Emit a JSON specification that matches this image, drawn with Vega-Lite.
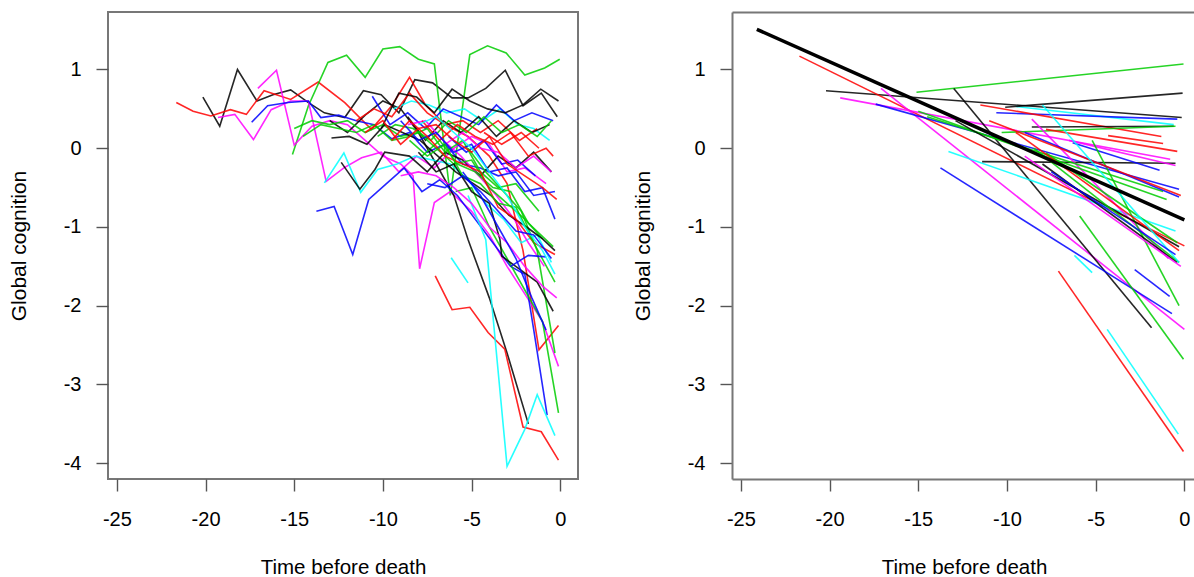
{
"$schema": "https://vega.github.io/schema/vega-lite/v6.json",
"padding": {"left": 7, "top": 11, "right": 0, "bottom": 0},
"spacing": 154,
"bounds": "flush",
"config": {
  "font": "Liberation Sans",
  "view": {"stroke": null},
  "axis": {"grid": false, "labelFont": "Liberation Sans", "titleFont": "Liberation Sans", "labelFontSize": 20, "titleFontSize": 20.5, "titleFontWeight": "normal", "labelColor": "#000", "titleColor": "#000", "tickColor": "#555", "tickSize": 12, "tickWidth": 1.4, "domainColor": "#777", "domainWidth": 2},
  "axisY": {"titleFontSize": 21}
},
"datasets": {
"traj": [
{"s":1,"c":"k","t":-20.15,"g":0.65},{"s":1,"c":"k","t":-19.2,"g":0.28},{"s":1,"c":"k","t":-18.2,"g":1.0},{"s":1,"c":"k","t":-17.1,"g":0.6},{"s":1,"c":"k","t":-16.2,"g":0.68},{"s":1,"c":"k","t":-15.2,"g":0.74},{"s":1,"c":"k","t":-14.2,"g":0.58},{"s":1,"c":"k","t":-13.3,"g":0.45},{"s":1,"c":"k","t":-12.15,"g":0.39},{"s":1,"c":"k","t":-11.1,"g":0.73},{"s":1,"c":"k","t":-10.1,"g":0.68},{"s":1,"c":"k","t":-9.1,"g":0.45},{"s":1,"c":"k","t":-8.2,"g":0.87},{"s":1,"c":"k","t":-7.2,"g":0.83},{"s":1,"c":"k","t":-6.1,"g":0.64},{"s":1,"c":"k","t":-5.2,"g":0.64},{"s":1,"c":"k","t":-4.2,"g":0.76},{"s":1,"c":"k","t":-3.1,"g":0.99},{"s":1,"c":"k","t":-2.1,"g":0.54},{"s":1,"c":"k","t":-1.07,"g":0.70},{"s":1,"c":"k","t":-0.17,"g":0.40},
{"s":2,"c":"r","t":-21.65,"g":0.58},{"s":2,"c":"r","t":-20.7,"g":0.47},{"s":2,"c":"r","t":-19.7,"g":0.41},{"s":2,"c":"r","t":-18.6,"g":0.49},{"s":2,"c":"r","t":-17.7,"g":0.43},{"s":2,"c":"r","t":-16.7,"g":0.73},{"s":2,"c":"r","t":-15.2,"g":0.62},{"s":2,"c":"r","t":-13.65,"g":0.84},{"s":2,"c":"r","t":-12.15,"g":0.58},{"s":2,"c":"r","t":-10.65,"g":0.24},{"s":2,"c":"r","t":-9.5,"g":0.54},{"s":2,"c":"r","t":-8.5,"g":0.90},{"s":2,"c":"r","t":-7.6,"g":0.55},{"s":2,"c":"r","t":-6.5,"g":0.3},{"s":2,"c":"r","t":-5.2,"g":0.15},{"s":2,"c":"r","t":-4.0,"g":-0.1},{"s":2,"c":"r","t":-3.0,"g":-0.45},{"s":2,"c":"r","t":-2.1,"g":-1.3},{"s":2,"c":"r","t":-1.2,"g":-2.56},{"s":2,"c":"r","t":-0.1,"g":-2.25},
{"s":3,"c":"g","t":-15.1,"g":-0.08},{"s":3,"c":"g","t":-14.2,"g":0.54},{"s":3,"c":"g","t":-13.1,"g":1.09},{"s":3,"c":"g","t":-12.05,"g":1.18},{"s":3,"c":"g","t":-11.0,"g":0.90},{"s":3,"c":"g","t":-10.0,"g":1.26},{"s":3,"c":"g","t":-9.05,"g":1.29},{"s":3,"c":"g","t":-8.0,"g":1.13},{"s":3,"c":"g","t":-7.1,"g":1.07},{"s":3,"c":"g","t":-6.2,"g":-0.6},{"s":3,"c":"g","t":-5.1,"g":1.19},{"s":3,"c":"g","t":-4.1,"g":1.30},{"s":3,"c":"g","t":-3.05,"g":1.21},{"s":3,"c":"g","t":-2.0,"g":0.93},{"s":3,"c":"g","t":-0.88,"g":1.02},{"s":3,"c":"g","t":-0.03,"g":1.13},
{"s":4,"c":"m","t":-19.3,"g":0.39},{"s":4,"c":"m","t":-18.35,"g":0.43},{"s":4,"c":"m","t":-17.3,"g":0.11},{"s":4,"c":"m","t":-16.3,"g":0.49},{"s":4,"c":"m","t":-15.2,"g":0.6},{"s":4,"c":"m","t":-14.2,"g":0.6},{"s":4,"c":"m","t":-13.2,"g":-0.42},{"s":4,"c":"m","t":-12.2,"g":-0.25},{"s":4,"c":"m","t":-11.2,"g":-0.12},{"s":4,"c":"m","t":-10.1,"g":-0.05},{"s":4,"c":"m","t":-9.1,"g":-0.3},{"s":4,"c":"m","t":-8.1,"g":-0.1},{"s":4,"c":"m","t":-7.1,"g":-0.25},{"s":4,"c":"m","t":-6.0,"g":0.0},{"s":4,"c":"m","t":-5.0,"g":0.15},{"s":4,"c":"m","t":-4.0,"g":0.05},{"s":4,"c":"m","t":-3.0,"g":-0.3},{"s":4,"c":"m","t":-2.0,"g":-0.25},{"s":4,"c":"m","t":-0.8,"g":-0.45},
{"s":5,"c":"m","t":-17.05,"g":0.76},{"s":5,"c":"m","t":-16.0,"g":0.99},{"s":5,"c":"m","t":-15.0,"g":0.04},{"s":5,"c":"m","t":-14.0,"g":0.28},{"s":5,"c":"m","t":-13.0,"g":0.35},{"s":5,"c":"m","t":-12.0,"g":0.3},{"s":5,"c":"m","t":-11.0,"g":0.1},{"s":5,"c":"m","t":-10.0,"g":-0.1},{"s":5,"c":"m","t":-9.0,"g":-0.2},{"s":5,"c":"m","t":-8.3,"g":-0.35},{"s":5,"c":"m","t":-7.93,"g":-1.53},{"s":5,"c":"m","t":-7.1,"g":-0.69},{"s":5,"c":"m","t":-6.2,"g":-0.55},{"s":5,"c":"m","t":-5.0,"g":-0.8},{"s":5,"c":"m","t":-4.0,"g":-1.1},{"s":5,"c":"m","t":-3.0,"g":-1.5},{"s":5,"c":"m","t":-2.0,"g":-1.85},{"s":5,"c":"m","t":-1.0,"g":-2.2},{"s":5,"c":"m","t":-0.1,"g":-2.77},
{"s":6,"c":"b","t":-17.4,"g":0.33},{"s":6,"c":"b","t":-16.5,"g":0.54},{"s":6,"c":"b","t":-15.35,"g":0.58},{"s":6,"c":"b","t":-14.2,"g":0.6},{"s":6,"c":"b","t":-13.5,"g":0.39},{"s":6,"c":"b","t":-12.5,"g":0.42},{"s":6,"c":"b","t":-11.5,"g":0.35},{"s":6,"c":"b","t":-10.5,"g":0.3},{"s":6,"c":"b","t":-9.5,"g":0.12},{"s":6,"c":"b","t":-8.5,"g":0.2},{"s":6,"c":"b","t":-7.5,"g":-0.05},{"s":6,"c":"b","t":-6.5,"g":0.05},{"s":6,"c":"b","t":-5.5,"g":-0.2},{"s":6,"c":"b","t":-4.5,"g":-0.25},{"s":6,"c":"b","t":-3.5,"g":-0.35},{"s":6,"c":"b","t":-2.5,"g":-0.3},{"s":6,"c":"b","t":-1.5,"g":-0.6},{"s":6,"c":"b","t":-0.3,"g":-0.55},
{"s":7,"c":"k","t":-13.0,"g":0.35},{"s":7,"c":"k","t":-12.0,"g":0.2},{"s":7,"c":"k","t":-11.0,"g":0.42},{"s":7,"c":"k","t":-10.0,"g":0.6},{"s":7,"c":"k","t":-9.0,"g":0.5},{"s":7,"c":"k","t":-8.0,"g":0.2},{"s":7,"c":"k","t":-7.0,"g":-0.2},{"s":7,"c":"k","t":-6.0,"g":-0.6},{"s":7,"c":"k","t":-5.2,"g":-1.16},{"s":7,"c":"k","t":-4.0,"g":-1.9},{"s":7,"c":"k","t":-3.0,"g":-2.6},{"s":7,"c":"k","t":-1.8,"g":-3.5},
{"s":8,"c":"c","t":-13.3,"g":-0.44},{"s":8,"c":"c","t":-12.2,"g":-0.06},{"s":8,"c":"c","t":-11.25,"g":-0.56},{"s":8,"c":"c","t":-10.3,"g":-0.27},{"s":8,"c":"c","t":-9.2,"g":-0.2},{"s":8,"c":"c","t":-8.2,"g":-0.1},{"s":8,"c":"c","t":-7.2,"g":-0.15},{"s":8,"c":"c","t":-6.2,"g":-0.2},{"s":8,"c":"c","t":-5.2,"g":-0.4},{"s":8,"c":"c","t":-4.2,"g":-0.7},{"s":8,"c":"c","t":-3.2,"g":-0.9},{"s":8,"c":"c","t":-2.2,"g":-1.2},{"s":8,"c":"c","t":-1.3,"g":-1.1},{"s":8,"c":"c","t":-0.5,"g":-1.45},
{"s":9,"c":"b","t":-13.75,"g":-0.8},{"s":9,"c":"b","t":-12.75,"g":-0.74},{"s":9,"c":"b","t":-11.7,"g":-1.35},{"s":9,"c":"b","t":-10.8,"g":-0.65},{"s":9,"c":"b","t":-9.8,"g":-0.45},{"s":9,"c":"b","t":-8.8,"g":-0.25},{"s":9,"c":"b","t":-7.8,"g":-0.55},{"s":9,"c":"b","t":-6.8,"g":-0.4},{"s":9,"c":"b","t":-5.8,"g":-0.6},{"s":9,"c":"b","t":-4.8,"g":-0.9},{"s":9,"c":"b","t":-3.8,"g":-1.2},{"s":9,"c":"b","t":-2.8,"g":-1.5},{"s":9,"c":"b","t":-2.0,"g":-1.6},{"s":9,"c":"b","t":-1.5,"g":-2.3},{"s":9,"c":"b","t":-0.74,"g":-3.39},
{"s":10,"c":"c","t":-9.4,"g":0.5},{"s":10,"c":"c","t":-8.4,"g":0.6},{"s":10,"c":"c","t":-7.4,"g":0.55},{"s":10,"c":"c","t":-6.4,"g":0.45},{"s":10,"c":"c","t":-5.4,"g":0.5},{"s":10,"c":"c","t":-4.4,"g":0.35},{"s":10,"c":"c","t":-3.4,"g":0.5},{"s":10,"c":"c","t":-2.4,"g":0.3},{"s":10,"c":"c","t":-1.5,"g":0.25},{"s":10,"c":"c","t":-0.6,"g":0.1},
{"s":11,"c":"b","t":-10.6,"g":0.66},{"s":11,"c":"b","t":-9.6,"g":0.3},{"s":11,"c":"b","t":-8.6,"g":0.45},{"s":11,"c":"b","t":-7.6,"g":0.25},{"s":11,"c":"b","t":-6.6,"g":0.5},{"s":11,"c":"b","t":-5.6,"g":0.4},{"s":11,"c":"b","t":-4.6,"g":0.3},{"s":11,"c":"b","t":-3.6,"g":0.55},{"s":11,"c":"b","t":-2.6,"g":0.35},{"s":11,"c":"b","t":-1.6,"g":0.45},{"s":11,"c":"b","t":-0.4,"g":0.35},
{"s":12,"c":"r","t":-11.5,"g":0.35},{"s":12,"c":"r","t":-10.5,"g":0.5},{"s":12,"c":"r","t":-9.5,"g":0.4},{"s":12,"c":"r","t":-8.5,"g":0.7},{"s":12,"c":"r","t":-7.5,"g":0.45},{"s":12,"c":"r","t":-6.5,"g":0.3},{"s":12,"c":"r","t":-5.5,"g":0.35},{"s":12,"c":"r","t":-4.5,"g":0.2},{"s":12,"c":"r","t":-3.5,"g":0.35},{"s":12,"c":"r","t":-2.3,"g":0.1},{"s":12,"c":"r","t":-1.3,"g":0.25},
{"s":13,"c":"k","t":-10.1,"g":0.25},{"s":13,"c":"k","t":-9.1,"g":0.7},{"s":13,"c":"k","t":-8.1,"g":0.65},{"s":13,"c":"k","t":-7.1,"g":0.45},{"s":13,"c":"k","t":-6.1,"g":0.75},{"s":13,"c":"k","t":-5.1,"g":0.6},{"s":13,"c":"k","t":-4.1,"g":0.5},{"s":13,"c":"k","t":-3.1,"g":0.45},{"s":13,"c":"k","t":-2.1,"g":0.55},{"s":13,"c":"k","t":-1.1,"g":0.75},{"s":13,"c":"k","t":-0.1,"g":0.6},
{"s":14,"c":"k","t":-8.6,"g":0.4},{"s":14,"c":"k","t":-7.6,"g":0.1},{"s":14,"c":"k","t":-6.6,"g":0.35},{"s":14,"c":"k","t":-5.6,"g":0.2},{"s":14,"c":"k","t":-4.6,"g":0.4},{"s":14,"c":"k","t":-3.6,"g":0.15},{"s":14,"c":"k","t":-2.6,"g":0.35},{"s":14,"c":"k","t":-1.6,"g":0.2},{"s":14,"c":"k","t":-0.6,"g":0.3},
{"s":15,"c":"k","t":-12.35,"g":-0.18},{"s":15,"c":"k","t":-11.3,"g":-0.52},{"s":15,"c":"k","t":-10.45,"g":-0.27},{"s":15,"c":"k","t":-9.9,"g":-0.05},{"s":15,"c":"k","t":-8.5,"g":-0.1},{"s":15,"c":"k","t":-7.5,"g":-0.3},{"s":15,"c":"k","t":-6.5,"g":-0.05},{"s":15,"c":"k","t":-5.5,"g":-0.15},{"s":15,"c":"k","t":-4.5,"g":-0.35},{"s":15,"c":"k","t":-3.5,"g":-0.1},{"s":15,"c":"k","t":-2.5,"g":-0.25},{"s":15,"c":"k","t":-1.5,"g":-0.05},{"s":15,"c":"k","t":-0.5,"g":-0.3},
{"s":16,"c":"g","t":-10.3,"g":0.15},{"s":16,"c":"g","t":-9.3,"g":0.3},{"s":16,"c":"g","t":-8.3,"g":0.25},{"s":16,"c":"g","t":-7.3,"g":0.1},{"s":16,"c":"g","t":-6.3,"g":0.35},{"s":16,"c":"g","t":-5.3,"g":0.2},{"s":16,"c":"g","t":-4.3,"g":0.4},{"s":16,"c":"g","t":-3.3,"g":0.2},{"s":16,"c":"g","t":-2.3,"g":0.3},{"s":16,"c":"g","t":-1.3,"g":0.15},{"s":16,"c":"g","t":-0.5,"g":0.35},
{"s":17,"c":"r","t":-4.3,"g":0.2},{"s":17,"c":"r","t":-3.3,"g":0.05},{"s":17,"c":"r","t":-2.2,"g":0.2},{"s":17,"c":"r","t":-1.2,"g":0.0},
{"s":18,"c":"b","t":-6.3,"g":0.15},{"s":18,"c":"b","t":-5.3,"g":-0.05},{"s":18,"c":"b","t":-4.3,"g":0.1},{"s":18,"c":"b","t":-3.3,"g":-0.2},{"s":18,"c":"b","t":-2.4,"g":-0.15},{"s":18,"c":"b","t":-1.4,"g":-0.35},
{"s":19,"c":"m","t":-8.6,"g":0.3},{"s":19,"c":"m","t":-7.6,"g":0.35},{"s":19,"c":"m","t":-6.6,"g":0.1},{"s":19,"c":"m","t":-5.6,"g":-0.1},{"s":19,"c":"m","t":-4.6,"g":-0.35},{"s":19,"c":"m","t":-3.6,"g":-0.6},{"s":19,"c":"m","t":-2.6,"g":-0.9},{"s":19,"c":"m","t":-1.8,"g":-1.2},{"s":19,"c":"m","t":-0.9,"g":-1.5},
{"s":20,"c":"r","t":-7.8,"g":0.35},{"s":20,"c":"r","t":-6.8,"g":0.1},{"s":20,"c":"r","t":-5.8,"g":0.3},{"s":20,"c":"r","t":-4.8,"g":0.15},{"s":20,"c":"r","t":-3.8,"g":0.05},{"s":20,"c":"r","t":-2.8,"g":0.2},{"s":20,"c":"r","t":-1.8,"g":-0.1},{"s":20,"c":"r","t":-0.8,"g":0.0},{"s":20,"c":"r","t":-0.4,"g":-0.1},
{"s":21,"c":"m","t":-6.5,"g":0.05},{"s":21,"c":"m","t":-5.5,"g":0.2},{"s":21,"c":"m","t":-4.5,"g":0.0},{"s":21,"c":"m","t":-3.5,"g":-0.05},{"s":21,"c":"m","t":-2.5,"g":-0.25},{"s":21,"c":"m","t":-1.5,"g":-0.1},{"s":21,"c":"m","t":-0.5,"g":-0.3},
{"s":22,"c":"g","t":-15.0,"g":0.25},{"s":22,"c":"g","t":-14.0,"g":0.35},{"s":22,"c":"g","t":-13.0,"g":0.3},{"s":22,"c":"g","t":-12.0,"g":0.35},{"s":22,"c":"g","t":-11.0,"g":0.2},{"s":22,"c":"g","t":-10.0,"g":0.3},{"s":22,"c":"g","t":-9.0,"g":0.15},{"s":22,"c":"g","t":-8.0,"g":0.2},{"s":22,"c":"g","t":-7.0,"g":0.0},{"s":22,"c":"g","t":-6.0,"g":-0.2},{"s":22,"c":"g","t":-5.0,"g":-0.15},{"s":22,"c":"g","t":-4.0,"g":-0.5},{"s":22,"c":"g","t":-3.0,"g":-0.7},{"s":22,"c":"g","t":-2.0,"g":-0.9},{"s":22,"c":"g","t":-1.0,"g":-1.15},
{"s":23,"c":"g","t":-14.5,"g":0.15},{"s":23,"c":"g","t":-13.5,"g":0.3},{"s":23,"c":"g","t":-12.5,"g":0.25},{"s":23,"c":"g","t":-11.5,"g":0.2},{"s":23,"c":"g","t":-10.5,"g":0.3},{"s":23,"c":"g","t":-9.5,"g":0.1},{"s":23,"c":"g","t":-8.5,"g":0.15},{"s":23,"c":"g","t":-7.5,"g":0.25},{"s":23,"c":"g","t":-6.5,"g":-0.05},{"s":23,"c":"g","t":-5.5,"g":0.1},{"s":23,"c":"g","t":-4.5,"g":-0.3},{"s":23,"c":"g","t":-3.5,"g":-0.5},{"s":23,"c":"g","t":-2.5,"g":-0.45},{"s":23,"c":"g","t":-1.2,"g":-0.8},
{"s":24,"c":"g","t":-7.8,"g":-0.1},{"s":24,"c":"g","t":-6.8,"g":0.1},{"s":24,"c":"g","t":-5.8,"g":-0.2},{"s":24,"c":"g","t":-4.8,"g":-0.3},{"s":24,"c":"g","t":-3.8,"g":-0.5},{"s":24,"c":"g","t":-2.8,"g":-0.55},{"s":24,"c":"g","t":-1.8,"g":-0.95},{"s":24,"c":"g","t":-0.4,"g":-1.25},
{"s":25,"c":"g","t":-5.9,"g":-0.55},{"s":25,"c":"g","t":-5.0,"g":-0.5},{"s":25,"c":"g","t":-4.0,"g":-1.0},{"s":25,"c":"g","t":-3.0,"g":-1.4},{"s":25,"c":"g","t":-2.0,"g":-1.8},{"s":25,"c":"g","t":-1.0,"g":-2.2},{"s":25,"c":"g","t":-0.1,"g":-3.36},
{"s":26,"c":"g","t":-5.2,"g":0.0},{"s":26,"c":"g","t":-4.2,"g":-0.3},{"s":26,"c":"g","t":-3.2,"g":-0.55},{"s":26,"c":"g","t":-2.2,"g":-0.8},{"s":26,"c":"g","t":-1.3,"g":-1.3},{"s":26,"c":"g","t":-0.3,"g":-2.6},
{"s":27,"c":"r","t":-7.05,"g":-1.62},{"s":27,"c":"r","t":-6.1,"g":-2.05},{"s":27,"c":"r","t":-5.1,"g":-2.02},{"s":27,"c":"r","t":-4.07,"g":-2.34},{"s":27,"c":"r","t":-3.13,"g":-2.55},{"s":27,"c":"r","t":-2.1,"g":-3.54},{"s":27,"c":"r","t":-1.07,"g":-3.6},{"s":27,"c":"r","t":-0.1,"g":-3.96},
{"s":28,"c":"c","t":-5.2,"g":-0.6},{"s":28,"c":"c","t":-4.2,"g":-1.16},{"s":28,"c":"c","t":-3.0,"g":-4.04},{"s":28,"c":"c","t":-2.0,"g":-3.57},{"s":28,"c":"c","t":-1.3,"g":-3.13},{"s":28,"c":"c","t":-0.3,"g":-3.65},
{"s":29,"c":"c","t":-6.15,"g":-1.39},{"s":29,"c":"c","t":-5.2,"g":-1.71},
{"s":30,"c":"k","t":-12.9,"g":0.13},{"s":30,"c":"k","t":-11.9,"g":0.15},{"s":30,"c":"k","t":-10.9,"g":0.05},{"s":30,"c":"k","t":-9.9,"g":0.3},{"s":30,"c":"k","t":-8.9,"g":0.2},{"s":30,"c":"k","t":-7.9,"g":0.1},{"s":30,"c":"k","t":-6.9,"g":-0.1},{"s":30,"c":"k","t":-5.9,"g":-0.3},{"s":30,"c":"k","t":-4.9,"g":-0.45},{"s":30,"c":"k","t":-3.9,"g":-0.6},{"s":30,"c":"k","t":-2.9,"g":-0.85},{"s":30,"c":"k","t":-1.9,"g":-1.0},{"s":30,"c":"k","t":-1.0,"g":-1.15},{"s":30,"c":"k","t":-0.3,"g":-1.3},
{"s":31,"c":"k","t":-8.0,"g":-0.05},{"s":31,"c":"k","t":-7.0,"g":-0.3},{"s":31,"c":"k","t":-6.0,"g":-0.2},{"s":31,"c":"k","t":-5.0,"g":-0.55},{"s":31,"c":"k","t":-4.0,"g":-0.7},{"s":31,"c":"k","t":-3.4,"g":-1.16},{"s":31,"c":"k","t":-3.3,"g":-1.37},{"s":31,"c":"k","t":-2.2,"g":-1.55},{"s":31,"c":"k","t":-1.3,"g":-1.7},{"s":31,"c":"k","t":-0.4,"g":-2.07},
{"s":32,"c":"b","t":-9.0,"g":0.35},{"s":32,"c":"b","t":-8.0,"g":0.1},{"s":32,"c":"b","t":-7.0,"g":0.2},{"s":32,"c":"b","t":-6.0,"g":-0.05},{"s":32,"c":"b","t":-5.0,"g":0.05},{"s":32,"c":"b","t":-4.0,"g":-0.3},{"s":32,"c":"b","t":-3.0,"g":-0.25},{"s":32,"c":"b","t":-2.0,"g":-0.55},{"s":32,"c":"b","t":-1.0,"g":-0.5},{"s":32,"c":"b","t":-0.3,"g":-0.9},
{"s":33,"c":"m","t":-9.0,"g":-0.35},{"s":33,"c":"m","t":-8.0,"g":-0.3},{"s":33,"c":"m","t":-7.0,"g":-0.35},{"s":33,"c":"m","t":-6.0,"g":-0.5},{"s":33,"c":"m","t":-5.0,"g":-0.7},{"s":33,"c":"m","t":-4.0,"g":-1.0},{"s":33,"c":"m","t":-3.0,"g":-1.2},{"s":33,"c":"m","t":-2.0,"g":-1.5},{"s":33,"c":"m","t":-1.0,"g":-1.75},{"s":33,"c":"m","t":-0.2,"g":-1.9},
{"s":34,"c":"r","t":-9.5,"g":0.1},{"s":34,"c":"r","t":-8.5,"g":0.35},{"s":34,"c":"r","t":-7.5,"g":0.15},{"s":34,"c":"r","t":-6.5,"g":-0.1},{"s":34,"c":"r","t":-5.5,"g":-0.2},{"s":34,"c":"r","t":-4.5,"g":-0.3},{"s":34,"c":"r","t":-3.5,"g":-0.75},{"s":34,"c":"r","t":-2.5,"g":-0.9},{"s":34,"c":"r","t":-1.5,"g":-1.2},{"s":34,"c":"r","t":-0.3,"g":-1.35},
{"s":35,"c":"g","t":-8.5,"g":0.1},{"s":35,"c":"g","t":-7.5,"g":-0.1},{"s":35,"c":"g","t":-6.5,"g":0.05},{"s":35,"c":"g","t":-5.5,"g":-0.35},{"s":35,"c":"g","t":-4.5,"g":-0.45},{"s":35,"c":"g","t":-3.5,"g":-0.7},{"s":35,"c":"g","t":-2.5,"g":-0.75},{"s":35,"c":"g","t":-1.5,"g":-1.2},{"s":35,"c":"g","t":-0.3,"g":-1.7},
{"s":36,"c":"b","t":-5.5,"g":-0.3},{"s":36,"c":"b","t":-4.5,"g":-0.6},{"s":36,"c":"b","t":-3.5,"g":-1.0},{"s":36,"c":"b","t":-2.5,"g":-1.4},{"s":36,"c":"b","t":-1.6,"g":-1.9},{"s":36,"c":"b","t":-0.8,"g":-2.31},
{"s":37,"c":"b","t":-2.8,"g":-1.5},{"s":37,"c":"b","t":-1.8,"g":-1.36},{"s":37,"c":"b","t":-0.8,"g":-1.38},
{"s":38,"c":"r","t":-11.0,"g":0.2},{"s":38,"c":"r","t":-10.0,"g":0.35},{"s":38,"c":"r","t":-9.0,"g":0.05},{"s":38,"c":"r","t":-8.0,"g":0.25},{"s":38,"c":"r","t":-7.0,"g":0.3},{"s":38,"c":"r","t":-6.0,"g":0.1},{"s":38,"c":"r","t":-5.0,"g":-0.05},{"s":38,"c":"r","t":-4.0,"g":0.15},{"s":38,"c":"r","t":-3.0,"g":-0.2},{"s":38,"c":"r","t":-2.0,"g":-0.35},{"s":38,"c":"r","t":-1.0,"g":-0.5},{"s":38,"c":"r","t":-0.2,"g":-0.65},
{"s":39,"c":"c","t":-8.0,"g":0.3},{"s":39,"c":"c","t":-7.0,"g":0.4},{"s":39,"c":"c","t":-6.0,"g":0.2},{"s":39,"c":"c","t":-5.0,"g":0.0},{"s":39,"c":"c","t":-4.0,"g":-0.3},{"s":39,"c":"c","t":-3.0,"g":-0.6},{"s":39,"c":"c","t":-2.0,"g":-1.0},{"s":39,"c":"c","t":-1.0,"g":-1.3},{"s":39,"c":"c","t":-0.3,"g":-1.6},
{"s":40,"c":"b","t":-7.5,"g":-0.45},{"s":40,"c":"b","t":-6.5,"g":-0.5},{"s":40,"c":"b","t":-5.5,"g":-0.35},{"s":40,"c":"b","t":-4.5,"g":-0.55},{"s":40,"c":"b","t":-3.5,"g":-0.8},{"s":40,"c":"b","t":-2.5,"g":-1.05},{"s":40,"c":"b","t":-1.5,"g":-1.1},{"s":40,"c":"b","t":-0.5,"g":-1.4}
],
"fits": [
{"s":1,"c":"k","t":-20.2,"g":0.73},{"s":1,"c":"k","t":-0.15,"g":0.39},
{"s":2,"c":"r","t":-21.7,"g":1.17},{"s":2,"c":"r","t":0.0,"g":-1.24},
{"s":3,"c":"g","t":-15.1,"g":0.71},{"s":3,"c":"g","t":-0.05,"g":1.07},
{"s":4,"c":"m","t":-19.4,"g":0.64},{"s":4,"c":"m","t":-0.8,"g":-0.14},
{"s":5,"c":"m","t":-17.1,"g":0.76},{"s":5,"c":"m","t":0.0,"g":-2.30},
{"s":6,"c":"b","t":-17.4,"g":0.56},{"s":6,"c":"b","t":-0.3,"g":-0.52},
{"s":7,"c":"k","t":-13.0,"g":0.76},{"s":7,"c":"k","t":-1.85,"g":-2.28},
{"s":8,"c":"c","t":-13.3,"g":-0.04},{"s":8,"c":"c","t":-0.5,"g":-1.05},
{"s":9,"c":"b","t":-13.75,"g":-0.25},{"s":9,"c":"b","t":-0.7,"g":-2.10},
{"s":10,"c":"c","t":-9.5,"g":0.53},{"s":10,"c":"c","t":-0.6,"g":0.30},
{"s":11,"c":"b","t":-10.6,"g":0.45},{"s":11,"c":"b","t":-0.4,"g":0.37},
{"s":12,"c":"r","t":-11.5,"g":0.55},{"s":12,"c":"r","t":-1.3,"g":0.15},
{"s":13,"c":"k","t":-10.1,"g":0.52},{"s":13,"c":"k","t":-0.1,"g":0.70},
{"s":14,"c":"k","t":-8.6,"g":0.27},{"s":14,"c":"k","t":-0.6,"g":0.28},
{"s":15,"c":"k","t":-11.4,"g":-0.17},{"s":15,"c":"k","t":-0.5,"g":-0.19},
{"s":16,"c":"g","t":-10.3,"g":0.20},{"s":16,"c":"g","t":-0.5,"g":0.28},
{"s":17,"c":"r","t":-4.3,"g":0.16},{"s":17,"c":"r","t":-1.2,"g":0.06},
{"s":18,"c":"b","t":-6.3,"g":0.07},{"s":18,"c":"b","t":-1.4,"g":-0.28},
{"s":19,"c":"m","t":-8.6,"g":0.37},{"s":19,"c":"m","t":-0.9,"g":-1.40},
{"s":20,"c":"r","t":-7.8,"g":0.24},{"s":20,"c":"r","t":-0.4,"g":-0.04},
{"s":21,"c":"m","t":-6.5,"g":0.10},{"s":21,"c":"m","t":-0.5,"g":-0.22},
{"s":22,"c":"g","t":-15.0,"g":0.47},{"s":22,"c":"g","t":-1.0,"g":-0.65},
{"s":23,"c":"g","t":-14.5,"g":0.40},{"s":23,"c":"g","t":-1.2,"g":-0.55},
{"s":24,"c":"g","t":-7.8,"g":-0.06},{"s":24,"c":"g","t":-0.4,"g":-1.20},
{"s":25,"c":"g","t":-5.9,"g":-0.86},{"s":25,"c":"g","t":-0.05,"g":-2.68},
{"s":26,"c":"g","t":-5.2,"g":0.1},{"s":26,"c":"g","t":-0.3,"g":-2.0},
{"s":27,"c":"r","t":-7.1,"g":-1.56},{"s":27,"c":"r","t":-0.05,"g":-3.85},
{"s":28,"c":"c","t":-4.35,"g":-2.30},{"s":28,"c":"c","t":-0.34,"g":-3.63},
{"s":29,"c":"c","t":-6.2,"g":-1.36},{"s":29,"c":"c","t":-5.2,"g":-1.58},
{"s":30,"c":"k","t":-12.9,"g":0.35},{"s":30,"c":"k","t":-0.3,"g":-1.25},
{"s":31,"c":"k","t":-8.0,"g":-0.2},{"s":31,"c":"k","t":-0.4,"g":-1.45},
{"s":32,"c":"b","t":-9.0,"g":0.2},{"s":32,"c":"b","t":-0.3,"g":-0.62},
{"s":33,"c":"m","t":-9.0,"g":-0.1},{"s":33,"c":"m","t":-0.2,"g":-1.5},
{"s":34,"c":"r","t":-9.5,"g":0.2},{"s":34,"c":"r","t":-0.3,"g":-1.3},
{"s":35,"c":"g","t":-8.5,"g":0.0},{"s":35,"c":"g","t":-0.3,"g":-1.45},
{"s":37,"c":"b","t":-2.8,"g":-1.54},{"s":37,"c":"b","t":-0.83,"g":-1.88},
{"s":38,"c":"r","t":-11.0,"g":0.35},{"s":38,"c":"r","t":-0.2,"g":-0.6},
{"s":39,"c":"c","t":-8.0,"g":0.55},{"s":39,"c":"c","t":-0.3,"g":-1.45},
{"s":40,"c":"b","t":-7.5,"g":-0.3},{"s":40,"c":"b","t":-0.5,"g":-1.35}
],
"overall": [
{"t":-24.1,"g":1.51},{"t":0.0,"g":-0.91}
]
},
"hconcat": [
{
  "width": 470, "height": 467,
  "view": {"stroke": "#777", "strokeWidth": 2},
  "data": {"name": "traj"},
  "mark": {"type": "line", "strokeWidth": 1.6, "opacity": 0.85},
  "encoding": {
    "x": {"field": "t", "type": "quantitative", "scale": {"domain": [-25.5, 1.0], "nice": false, "zero": false},
          "axis": {"values": [-25,-20,-15,-10,-5,0], "title": "Time before death", "domain": false, "labelExpr": "'' + datum.value", "labelPadding": 18, "titlePadding": 28}},
    "y": {"field": "g", "type": "quantitative", "scale": {"domain": [-4.2, 1.73], "nice": false, "zero": false},
          "axis": {"values": [-4,-3,-2,-1,0,1], "title": "Global cognition", "domain": false, "labelExpr": "'' + datum.value", "labelPadding": 15, "titlePadding": 34}},
    "color": {"field": "c", "type": "nominal", "scale": {"domain": ["k","r","g","b","c","m"], "range": ["#000000","#FF0000","#00CD00","#0000FF","#00FFFF","#FF00FF"]}, "legend": null},
    "detail": {"field": "s", "type": "nominal"}
  }
},
{
  "width": 464, "height": 467,
  "view": {"stroke": null},
  "resolve": {"axis": {"x": "independent"}},
  "layer": [
    {
      "data": {"name": "fits"},
      "mark": {"type": "line", "strokeWidth": 1.6, "opacity": 0.85},
      "encoding": {
        "x": {"field": "t", "type": "quantitative", "scale": {"domain": [-25.5, 0.655], "nice": false, "zero": false},
              "axis": {"values": [-25,-20,-15,-10,-5,0], "title": "Time before death", "domain": true, "labelExpr": "'' + datum.value", "labelPadding": 18, "titlePadding": 28}},
        "y": {"field": "g", "type": "quantitative", "scale": {"domain": [-4.2, 1.73], "nice": false, "zero": false},
              "axis": {"values": [-4,-3,-2,-1,0,1], "title": "Global cognition", "domain": true, "labelExpr": "'' + datum.value", "labelPadding": 15, "titlePadding": 34}},
        "color": {"field": "c", "type": "nominal", "scale": {"domain": ["k","r","g","b","c","m"], "range": ["#000000","#FF0000","#00CD00","#0000FF","#00FFFF","#FF00FF"]}, "legend": null},
        "detail": {"field": "s", "type": "nominal"}
      }
    },
    {
      "data": {"name": "overall"},
      "mark": {"type": "line", "strokeWidth": 3.5, "color": "#000000"},
      "encoding": {
        "x": {"field": "t", "type": "quantitative", "scale": {"domain": [-25.5, 0.655], "nice": false, "zero": false},
              "axis": {"orient": "top", "labels": false, "ticks": false, "title": null, "domain": true}},
        "y": {"field": "g", "type": "quantitative", "scale": {"domain": [-4.2, 1.73], "nice": false, "zero": false}}
      }
    }
  ]
}
]
}
